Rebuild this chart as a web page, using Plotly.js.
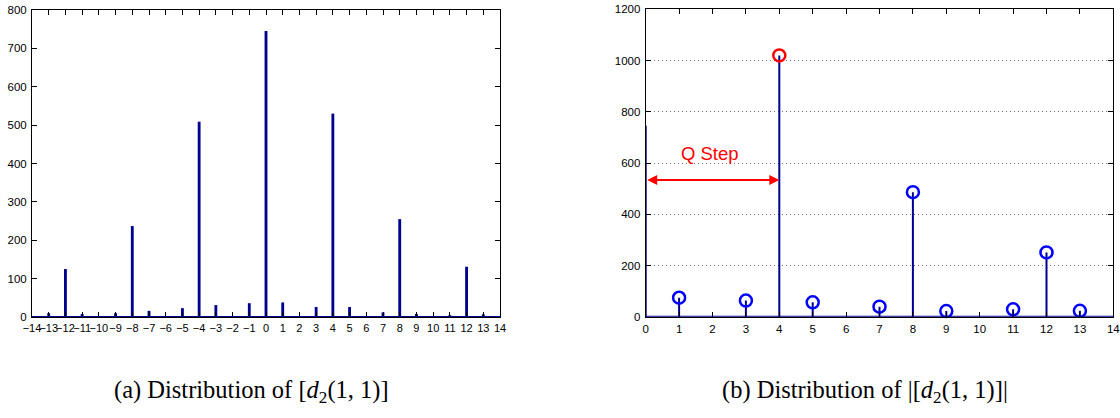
<!DOCTYPE html>
<html>
<head>
<meta charset="utf-8">
<script src="https://cdn.plot.ly/plotly-3.0.1.min.js"></script>
<style>
html,body{margin:0;padding:0;background:#fff;}
#chart{width:1120px;height:418px;}
</style>
</head>
<body>
<div id="chart"></div>
<script>
// Panel (a): histogram of signed values
const binsA = [-14,-13,-12,-11,-10,-9,-8,-7,-6,-5,-4,-3,-2,-1,0,1,2,3,4,5,6,7,8,9,10,11,12,13,14];
const countsA = [0,10,125,8,0,10,237,16,0,23,509,31,0,36,745,38,0,26,530,26,0,12,255,8,0,5,131,7,0];

// Panel (b): histogram of absolute values (stem plot)
const binsB = [0,1,3,4,5,7,8,9,11,12,13];
const countsB = [745,74,63,1020,56,39,486,22,29,251,23];
const markerShown = [false,true,true,true,true,true,true,true,true,true,true];
const highlightBin = 4;

const xTicksA = binsA;
const xTicksB = [0,1,2,3,4,5,6,7,8,9,10,11,12,13,14];
const yTicksA = [0,100,200,300,400,500,600,700,800];
const yTicksB = [0,200,400,600,800,1000,1200];

const captionA = '(a) Distribution of [<i>d</i><sub>2</sub>(1, 1)]';
const captionB = '(b) Distribution of |[<i>d</i><sub>2</sub>(1, 1)]|';
const arrowLabel = 'Q Step';
const arrowY = 534;

const stemBlue = '#00008f';
const markBlue = '#0000ff';

// stems built from the data
const stemX = [], stemY = [];
binsB.forEach((b,i)=>{ stemX.push(b,b,null); stemY.push(0,countsB[i],null); });
const mX = binsB.filter((b,i)=>markerShown[i]);
const mY = countsB.filter((c,i)=>markerShown[i]);
const mC = mX.map(b => b===highlightBin ? '#ff0000' : markBlue);

const traces = [
  {type:'bar', x:binsA, y:countsA, width:0.17, marker:{color:stemBlue, line:{width:0}},
   xaxis:'x', yaxis:'y', hoverinfo:'x+y'},
  {type:'scatter', mode:'lines', x:stemX, y:stemY, line:{color:stemBlue, width:2},
   xaxis:'x2', yaxis:'y2', cliponaxis:false},
  {type:'scatter', mode:'markers', x:mX, y:mY,
   marker:{symbol:'circle-open', size:12, color:mC, line:{width:2.5, color:mC}},
   xaxis:'x2', yaxis:'y2', cliponaxis:false}
];

const tickFont = {family:'Liberation Sans, Arial, Helvetica, sans-serif', size:11.5, color:'#000'};
const axBase = {showline:true, linecolor:'#000', linewidth:1, mirror:'ticks', ticks:'inside',
  ticklen:5, tickcolor:'#000', tickwidth:1, showgrid:false, zeroline:false, tickfont:tickFont,
  fixedrange:true, tickangle:0, ticklabeloverflow:'allow'};

const layout = {
  width:1120, height:418, margin:{l:0,r:0,t:0,b:0},
  paper_bgcolor:'#fff', plot_bgcolor:'#fff', showlegend:false,
  xaxis: Object.assign({}, axBase, {domain:[32/1120, 500/1120], range:[-14,14], tickmode:'array',
    tickvals:xTicksA, ticktext:xTicksA.map(v=> v<0 ? '\u2212'+Math.abs(v) : String(v)), anchor:'y', ticklabelstandoff:1,
    tickfont:{family:'Liberation Sans, Arial, Helvetica, sans-serif', size:11, color:'#000'}}),
  yaxis: Object.assign({}, axBase, {domain:[1-317/418, 1-10/418], range:[0,800], tickmode:'array', tickvals:yTicksA, anchor:'x', ticklabelstandoff:2}),
  xaxis2: Object.assign({}, axBase, {domain:[645.7/1120, 1113.3/1120], range:[0,14], tickmode:'array', tickvals:xTicksB, anchor:'y2', ticklabelstandoff:1}),
  yaxis2: Object.assign({}, axBase, {domain:[1-316.7/418, 1-9.3/418], range:[0,1200], tickmode:'array', tickvals:yTicksB, anchor:'x2',
    showgrid:true, gridcolor:'#6a6a6a', griddash:'1px,3px', gridwidth:1, ticklabelstandoff:2}),
  shapes:[
    {type:'line', xref:'x', yref:'y', x0:-14, x1:14, y0:0, y1:0, line:{color:stemBlue, width:2}, layer:'above'},
    {type:'line', xref:'x2', yref:'y2', x0:0, x1:14, y0:0, y1:0, line:{color:stemBlue, width:2}, layer:'above'}
  ],
  annotations:[
    {xref:'x2', yref:'y2', x:4, y:arrowY, ax:0, ay:arrowY, axref:'x2', ayref:'y2', text:'',
     showarrow:true, arrowhead:2, startarrowhead:2, arrowside:'end+start', arrowsize:1, arrowwidth:2, arrowcolor:'#ff0000'},
    {xref:'x2', yref:'y2', x:1.92, y:639, text:arrowLabel, showarrow:false,
     font:{family:'Liberation Sans, Arial, sans-serif', size:18.5, color:'#ff0000'}},
    {xref:'paper', yref:'paper', x:251/1120, y:1-391/418, text:captionA, showarrow:false, xanchor:'center', yanchor:'middle',
     font:{family:'Liberation Serif, Times New Roman, serif', size:24.5, color:'#000'}},
    {xref:'paper', yref:'paper', x:865/1120, y:1-391/418, text:captionB, showarrow:false, xanchor:'center', yanchor:'middle',
     font:{family:'Liberation Serif, Times New Roman, serif', size:24.5, color:'#000'}}
  ]
};

Plotly.newPlot('chart', traces, layout, {displayModeBar:false, staticPlot:true});
</script>
</body>
</html>
